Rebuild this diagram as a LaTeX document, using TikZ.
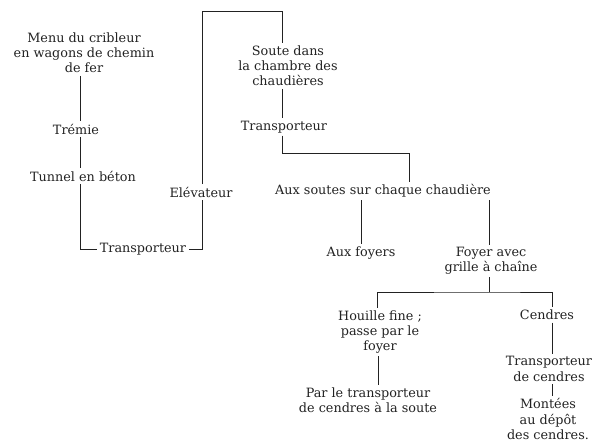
\documentclass[tikz,border=0pt]{standalone}
\usepackage{fontspec}
\setmainfont{DejaVu Serif}
\usepackage{xcolor}
\usepackage{tikz}
\usetikzlibrary{positioning,calc}
\definecolor{flink}{HTML}{222222}

\begin{document}
\begin{tikzpicture}[
  x=1pt, y=-1pt,
  font=\fontsize{12.8}{15.2}\selectfont,
  lbl/.style={align=center, inner sep=2.5pt, text=flink},
  wire/.style={draw=flink, line width=0.7pt},
  ]
  \useasboundingbox (0,0) rectangle (594,443);

  \node[lbl] (menu) at (84,53) {Menu du cribleur\\en wagons de chemin\\de fer};
  \node[lbl] (tremie) at (76,129) {Trémie};
  \node[lbl] (tunnel) at (83,176) {Tunnel en béton};
  \node[lbl] (transp1) at (143,249) {Transporteur};
  \node[lbl] (elev) at (201,192) {Elévateur};
  \coordinate (topR) at (282,11);
  \node[lbl] (soute) at (288,66) {Soute dans\\la chambre des\\chaudières};
  \node[lbl] (transp2) at (284,127) {Transporteur};
  \coordinate (jA) at (409,153);
  \node[lbl] (soutes) at (383,191) {Aux soutes sur chaque chaudière};
  \node[lbl] (foyers) at (361,253) {Aux foyers};
  \node[lbl] (foyer) at (491,261) {Foyer avec\\grille à chaîne};
  \coordinate (jB) at (489,292);
  \node[lbl] (houille) at (380,332) {Houille fine ;\\passe par le\\foyer};
  \node[lbl] (partrans) at (368,400) {Par le transporteur\\de cendres à la soute};
  \node[lbl] (cendres) at (547,315) {Cendres};
  \node[lbl] (transp3) at (549,369) {Transporteur\\de cendres};
  \node[lbl] (montees) at (548,419) {Montées\\au dépôt\\des cendres.};

  % stockage et reprise
  \draw[wire] (menu.south -| 80,0) -- (tremie.north -| 80,0);
  \draw[wire] (tremie.south -| 80,0) -- (tunnel.north -| 80,0);
  \draw[wire] (tunnel.south -| 80,0) |- (transp1.west);
  \draw[wire] (transp1.east) -| (elev.south -| 202,0);
  \draw[wire] (elev.north -| 202,0) |- (topR) -- (topR |- soute.north);
  \draw[wire] (soute.south -| topR) -- (transp2.north -| topR);
  \draw[wire] (transp2.south -| topR) |- (jA) -- (jA |- soutes.north);

  % chaudieres
  \draw[wire] (foyers.north |- soutes.south) -- (foyers.north);
  \draw[wire] (jB |- soutes.south) -- (jB |- foyer.north);
  \draw[wire] (jB |- foyer.south) -- (jB);
  \draw[wire] (houille.north -| 377,0) |- (jB) -| (cendres.north -| 552,0);
  \draw[wire] (houille.south -| 378,0) -- (partrans.north -| 378,0);
  \draw[wire] (cendres.south -| 552,0) -- (transp3.north -| 552,0);
  \draw[wire] (transp3.south -| 552,0) -- (montees.north -| 552,0);
\end{tikzpicture}
\end{document}
